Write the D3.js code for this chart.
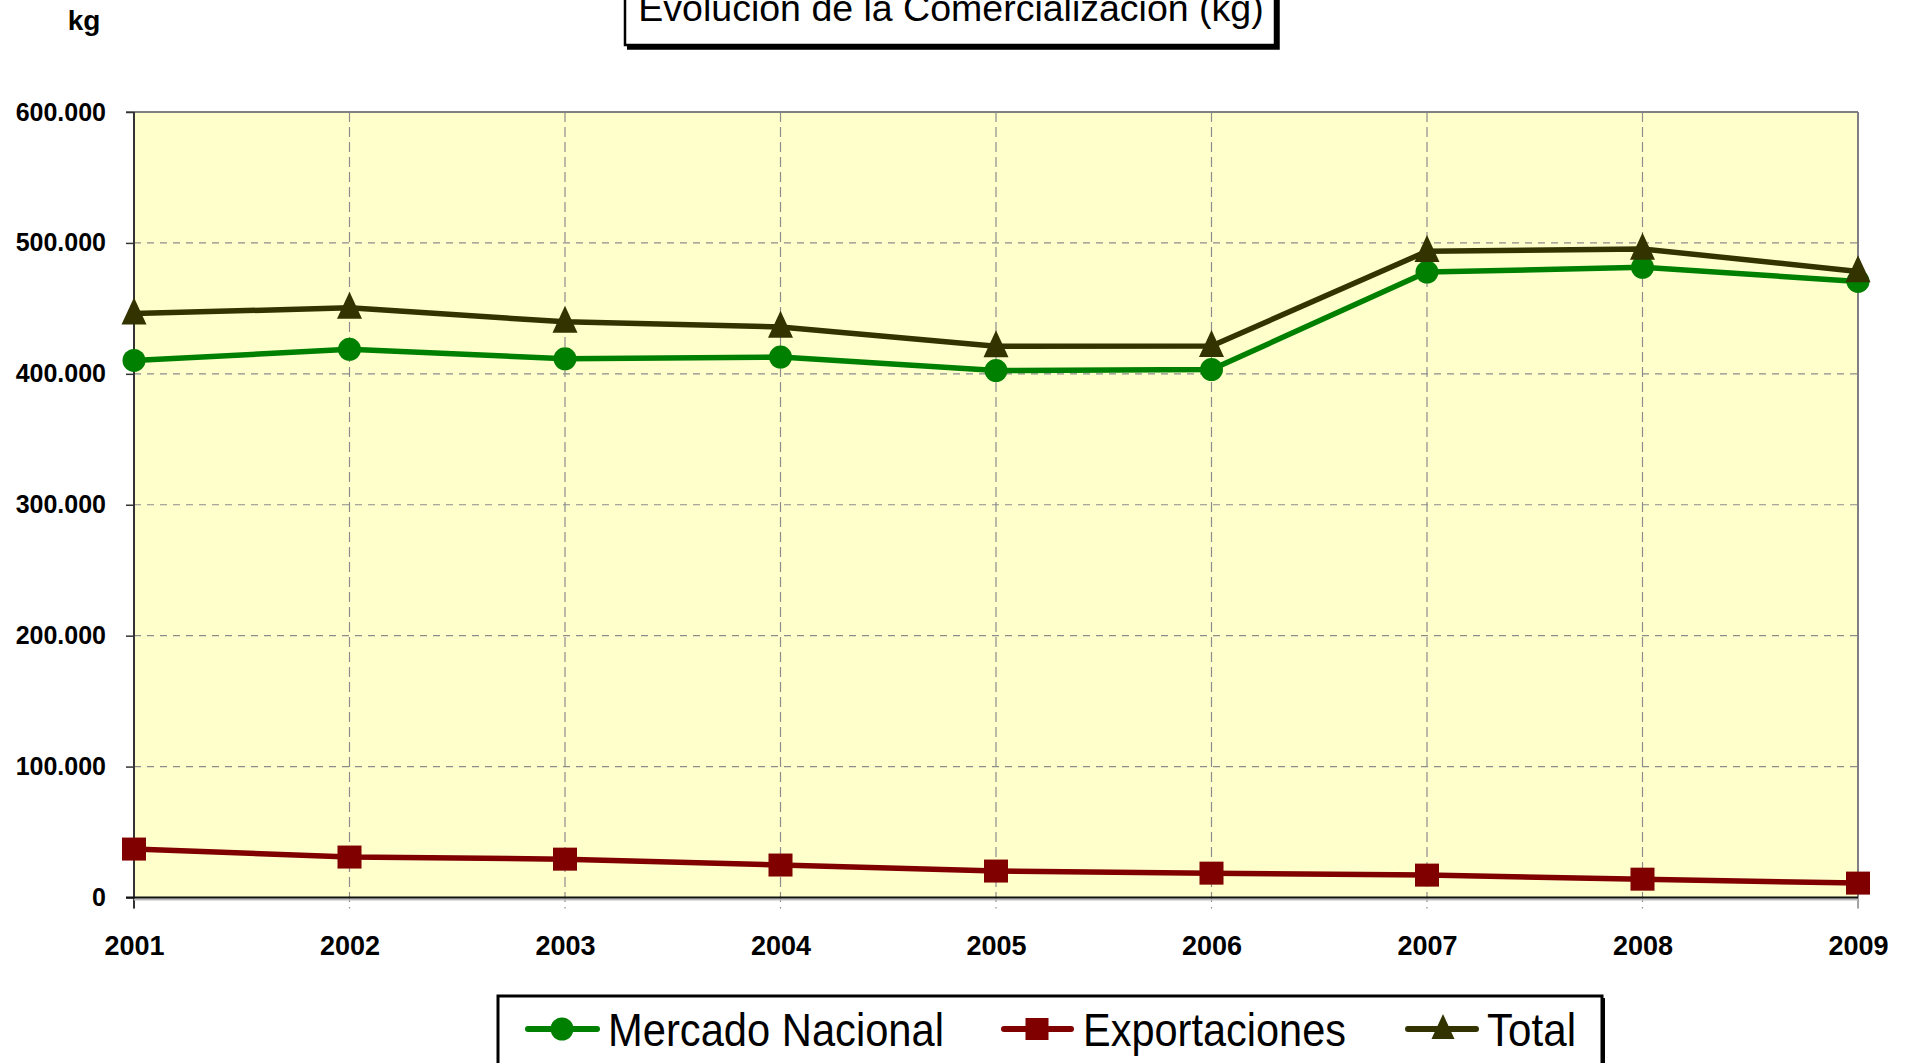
<!DOCTYPE html>
<html>
<head>
<meta charset="utf-8">
<script src="https://cdn.jsdelivr.net/npm/d3@7"></script>
<style>
  html, body { margin: 0; padding: 0; background: #ffffff; }
  svg { display: block; font-family: "Liberation Sans", Arial, sans-serif; }
</style>
</head>
<body>
<svg id="chart" width="1915" height="1063"></svg>
<script>
// ---- data ----
const years = ["2001","2002","2003","2004","2005","2006","2007","2008","2009"];
const mercadoNacional = [410200, 418700, 411500, 412800, 402500, 403300, 477700, 481400, 470600];
const exportaciones   = [37000, 30900, 29300, 24800, 20200, 18600, 17100, 14000, 11000];
const total           = [446000, 450400, 439700, 435800, 421000, 421200, 493600, 495400, 478200];
const yTicks = [0, 100000, 200000, 300000, 400000, 500000, 600000];
const titleText = "Evolución de la Comercialización (kg)";
const yUnit = "kg";
const seriesNames = ["Mercado Nacional", "Exportaciones", "Total"];

const series = [
  { name: seriesNames[0], values: mercadoNacional, color: "#008000", marker: "circle" },
  { name: seriesNames[1], values: exportaciones,   color: "#800000", marker: "square" },
  { name: seriesNames[2], values: total,           color: "#333300", marker: "triangle" }
];

const svg = d3.select("#chart");
const L = 134, R = 1858, T = 112, B = 897.5;

const x = d3.scalePoint().domain(years).range([L, R]).padding(0);
const y = d3.scaleLinear().domain([0, 600000]).range([B, T]);

const fmt = v => v === 0 ? "0" : d3.format(",")(v).replace(/,/g, ".");

// plot background
svg.append("rect").attr("x", L).attr("y", T).attr("width", R - L).attr("height", B - T)
  .attr("fill", "#ffffcc");

// horizontal gridlines
svg.append("g").selectAll("line").data(yTicks.filter(d => d > 0 && d < 600000)).join("line")
  .attr("x1", L).attr("x2", R).attr("y1", d => y(d)).attr("y2", d => y(d))
  .attr("stroke", "#8c8c8c").attr("stroke-width", 1.2).attr("stroke-dasharray", "7,6");

// vertical gridlines (years), extending below axis as ticks
svg.append("g").selectAll("line").data(years.slice(1, -1)).join("line")
  .attr("x1", d => x(d)).attr("x2", d => x(d)).attr("y1", T).attr("y2", B + 11)
  .attr("stroke", "#8c8c8c").attr("stroke-width", 1.2).attr("stroke-dasharray", "10,5");
svg.append("g").selectAll("line").data([years[0], years[years.length-1]]).join("line")
  .attr("x1", d => x(d)).attr("x2", d => x(d)).attr("y1", B).attr("y2", B + 11)
  .attr("stroke", "#666").attr("stroke-width", 1.2);

// top and right borders
svg.append("line").attr("x1", L - 8).attr("x2", R).attr("y1", T).attr("y2", T)
  .attr("stroke", "#808080").attr("stroke-width", 2);
svg.append("line").attr("x1", R).attr("x2", R).attr("y1", T).attr("y2", B)
  .attr("stroke", "#808080").attr("stroke-width", 2);

// y axis
const yAxis = d3.axisLeft(y).tickValues(yTicks).tickFormat(fmt).tickSize(8).tickPadding(20);
const gy = svg.append("g").attr("transform", `translate(${L},0)`).call(yAxis);
gy.select(".domain").attr("stroke", "#333").attr("stroke-width", 2).attr("d", `M0,${T}V${B + 11}`);
gy.selectAll(".tick line").attr("stroke", "#333").attr("stroke-width", 1.5);
gy.selectAll(".tick text").attr("font-size", 25).attr("font-weight", "bold")
  .attr("fill", "#000").attr("font-family", "Liberation Sans, Arial, sans-serif");

// x axis baseline (with light shadow)
svg.append("line").attr("x1", L).attr("x2", R).attr("y1", B + 2).attr("y2", B + 2)
  .attr("stroke", "#bbbbbb").attr("stroke-width", 2);
svg.append("line").attr("x1", L - 8).attr("x2", R).attr("y1", B).attr("y2", B)
  .attr("stroke", "#111").attr("stroke-width", 2);

// x labels
const xAxis = d3.axisBottom(x).tickSize(0).tickPadding(0);
const gx = svg.append("g").attr("transform", `translate(0,${B})`).call(xAxis);
gx.select(".domain").remove();
gx.selectAll(".tick text").attr("y", 57).attr("dy", 0).attr("font-size", 27)
  .attr("font-weight", "bold").attr("fill", "#000")
  .attr("font-family", "Liberation Sans, Arial, sans-serif");

// markers
function drawMarker(g, type, color, size) {
  if (type === "circle") {
    g.append("circle").attr("r", size / 2).attr("fill", color);
  } else if (type === "square") {
    g.append("rect").attr("x", -size / 2).attr("y", -size / 2 + 0.5).attr("width", size).attr("height", size - 1).attr("fill", color);
  } else {
    const h = size + 2, w = size;
    g.append("path").attr("d", `M0,${-h * 0.6}L${w / 2},${h * 0.4}L${-w / 2},${h * 0.4}Z`).attr("fill", color);
  }
}

const line = d3.line().x((d, i) => x(years[i])).y(d => y(d));
series.forEach(s => {
  svg.append("path").datum(s.values).attr("d", line).attr("fill", "none")
    .attr("stroke", s.color).attr("stroke-width", 5.5).attr("stroke-linejoin", "round");
});
series.forEach(s => {
  s.values.forEach((v, i) => {
    const g = svg.append("g").attr("transform", `translate(${x(years[i])},${y(v)})`);
    drawMarker(g, s.marker, s.color, s.marker === "circle" ? 23 : (s.marker === "square" ? 24 : 25));
  });
});

// unit label
svg.append("text").attr("x", 84).attr("y", 30).attr("text-anchor", "middle")
  .attr("font-size", 28).attr("font-weight", "bold").text(yUnit);

// title box
svg.append("rect").attr("x", 625).attr("y", -20).attr("width", 650).attr("height", 65)
  .attr("fill", "#fff").attr("stroke", "#000").attr("stroke-width", 2.5);
svg.append("path").attr("d", "M627,47.5H1277.5V-20").attr("fill", "none")
  .attr("stroke", "#000").attr("stroke-width", 4.5);
svg.append("text").attr("x", 951).attr("y", 21).attr("text-anchor", "middle")
  .attr("font-size", 37.5).attr("fill", "#000").text(titleText);

// legend
const lg = svg.append("g");
lg.append("rect").attr("x", 498).attr("y", 996).attr("width", 1104).attr("height", 84)
  .attr("fill", "#fff").attr("stroke", "#000").attr("stroke-width", 3);
lg.append("line").attr("x1", 1603.5).attr("x2", 1603.5).attr("y1", 998).attr("y2", 1080)
  .attr("stroke", "#000").attr("stroke-width", 3);
const legendPos = [
  { lx1: 528, lx2: 597, cx: 562, tx: 608, tw: 336 },
  { lx1: 1004, lx2: 1071, cx: 1037, tx: 1083, tw: 263 },
  { lx1: 1408, lx2: 1476, cx: 1443, tx: 1487, tw: 89 }
];
const ly = 1029;
series.forEach((s, i) => {
  const p = legendPos[i];
  lg.append("line").attr("x1", p.lx1).attr("x2", p.lx2).attr("y1", ly).attr("y2", ly)
    .attr("stroke", s.color).attr("stroke-width", 6).attr("stroke-linecap", "round");
  const g = lg.append("g").attr("transform", `translate(${p.cx},${ly})`);
  drawMarker(g, s.marker, s.color, 23);
  lg.append("text").attr("x", p.tx).attr("y", 1046).attr("font-size", 47)
    .attr("textLength", p.tw).attr("lengthAdjust", "spacingAndGlyphs")
    .attr("fill", "#000").text(s.name);
});
</script>
</body>
</html>
